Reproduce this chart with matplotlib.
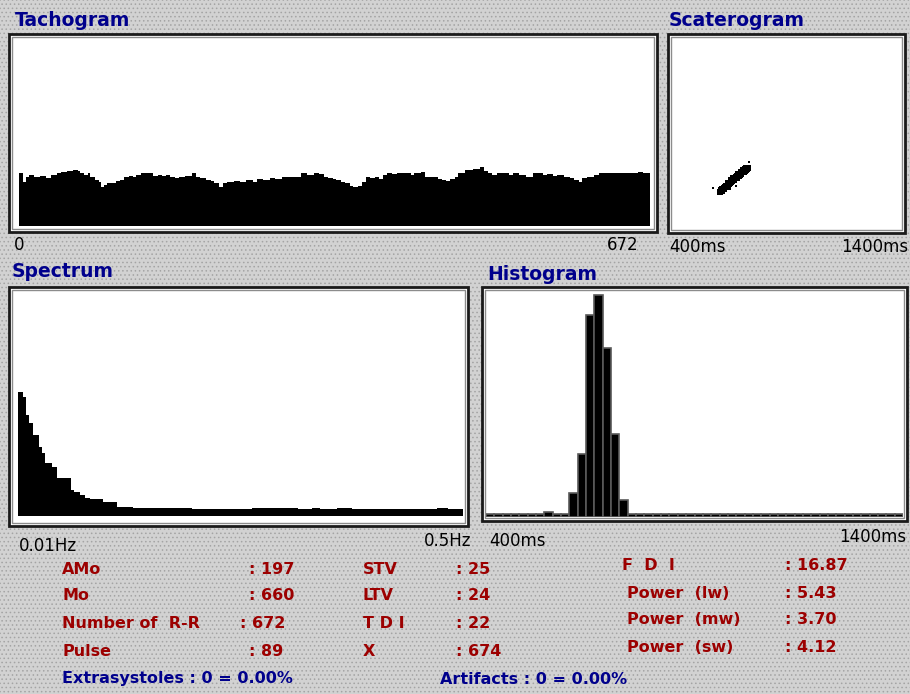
import numpy as np
import matplotlib
matplotlib.use('Agg')
import matplotlib.pyplot as plt
from matplotlib.patches import Rectangle

# Tachogram : RR (ms) par numéro de battement
tacho_beat = [0, 4, 7, 11, 16, 22, 29, 34, 40, 45, 51, 58, 63, 65, 69, 74, 76, 81, 85, 87,
              90, 94, 99, 103, 108, 112, 117, 121, 125, 130, 134, 139, 143, 148, 152, 157,
              161, 166, 170, 177, 184, 188, 193, 199, 204, 208, 213, 217, 222, 229, 235,
              242, 249, 253, 260, 267, 273, 280, 287, 293, 300, 307, 314, 320, 325, 329,
              334, 338, 343, 347, 352, 356, 361, 365, 370, 374, 379, 383, 388, 392, 397,
              403, 410, 417, 421, 428, 432, 437, 441, 446, 450, 455, 459, 464, 468, 475,
              479, 484, 491, 495, 500, 504, 509, 515, 522, 526, 533, 540, 547, 553, 558,
              562, 569, 573, 580, 587, 591, 596, 600, 605, 612, 618, 625, 634, 643, 652,
              659, 665]
tacho_rr = [680, 636, 662, 671, 662, 666, 654, 671, 680, 689, 694, 698, 694, 680, 671, 680,
            662, 645, 636, 609, 618, 627, 630, 641, 645, 659, 666, 662, 671, 680, 680, 680,
            666, 671, 666, 671, 659, 654, 662, 666, 680, 662, 654, 645, 641, 630, 609, 627,
            636, 641, 636, 645, 636, 648, 645, 654, 648, 662, 659, 662, 680, 671, 680, 677,
            662, 654, 648, 645, 636, 627, 613, 609, 613, 636, 659, 654, 662, 648, 671, 680,
            677, 680, 680, 671, 680, 689, 662, 659, 662, 648, 645, 641, 648, 662, 680, 698,
            698, 701, 712, 694, 680, 671, 680, 680, 671, 680, 671, 659, 680, 680, 671, 677,
            666, 671, 662, 654, 645, 636, 654, 662, 671, 680, 680, 680, 680, 680, 689, 680]
n_rr = 672

# Scatterogram : RR(n) / RR(n+1) en ms
scat_x = [611, 618, 622, 625, 630, 628, 635, 640, 638, 645, 650, 648, 655, 660, 658, 665,
          670, 668, 675, 680, 685, 690, 695, 700, 705, 710, 715, 720, 725, 730, 736, 700,
          690, 712, 722, 728, 675, 660, 645, 620, 686, 706, 716, 696]
scat_y = [598, 605, 603, 612, 615, 620, 622, 625, 630, 632, 638, 642, 645, 650, 655, 655,
          662, 668, 668, 675, 680, 684, 690, 692, 698, 700, 705, 708, 712, 716, 720, 685,
          690, 710, 714, 720, 660, 660, 625, 610, 672, 690, 700, 678]
outlier_x = [740, 579, 681]
outlier_y = [751, 616, 630]

# Spectre : bornes de fréquence (Hz) et puissance (unités relatives)
spec_edges = [0.0100, 0.0155, 0.0185, 0.0221, 0.0259, 0.0332, 0.0358, 0.0394, 0.0468,
              0.0523, 0.0678, 0.0714, 0.0780, 0.0835, 0.0891, 0.1037, 0.1184, 0.1368,
              0.2012, 0.2673, 0.3187, 0.3335, 0.3426, 0.3610, 0.3776, 0.4713, 0.4841, 0.5000]
spec_power = [124, 119, 101, 93, 81, 69, 63, 53, 49, 38, 26, 24, 21, 18, 17, 14, 9, 8,
              7, 8, 7, 8, 7, 8, 7, 8, 7]

# Histogramme : classes de 20 ms
hist_bins = [540, 600, 620, 640, 660, 680, 700, 720]
hist_counts = [2, 19, 53, 176, 194, 147, 71, 12]

# Indices
left_labels = ['AMo', 'Mo', 'Number of  R-R', 'Pulse']
left_values = ['197', '660', '672', '89']
mid_labels = ['STV', 'LTV', 'T D I', 'X']
mid_values = ['25', '24', '22', '674']
right_labels = ['F  D  I', 'Power  (lw)', 'Power  (mw)', 'Power  (sw)']
right_values = ['16.87', '5.43', '3.70', '4.12']

W, H = 910, 694
RED = '#9c0000'
BLUE = '#00008c'
plt.rcParams['hatch.linewidth'] = 0.6
plt.rcParams['hatch.color'] = '#a4a4a4'

fig = plt.figure(figsize=(W / 100, H / 100), dpi=100)
fig.patch.set_facecolor('#cdcdcd')

bg = fig.add_axes([0, 0, 1, 1])
bg.set_xlim(0, W)
bg.set_ylim(H, 0)
bg.axis('off')
# fond pointillé façon Windows 3.x
bg.add_patch(Rectangle((0, 0), W, H, facecolor='#d2d2d2', edgecolor='#a4a4a4',
                       hatch='....', lw=0))


def frame(x0, y0, x1, y1):
    bg.add_patch(Rectangle((x0, y0), x1 - x0, y1 - y0, facecolor='white',
                           edgecolor='#1a1a1a', lw=2))
    bg.add_patch(Rectangle((x0 + 3, y0 + 3), x1 - x0 - 6, y1 - y0 - 6, fill=False,
                           edgecolor='#8c8c8c', lw=1))


def px_axes(x0, y0, x1, y1):
    ax = fig.add_axes([x0 / W, 1 - y1 / H, (x1 - x0) / W, (y1 - y0) / H])
    ax.axis('off')
    return ax


def title(x, y, s):
    bg.text(x, y, s, color=BLUE, fontsize=13.5, fontweight='bold', va='center', ha='left')


def tick(x, y, s, ha='left'):
    bg.text(x, y, s, color='black', fontsize=12, va='center', ha=ha)


def stat(x, y, s, color=RED):
    bg.text(x, y, s, color=color, fontsize=11.5, fontweight='bold', va='center')


# cadres
frame(9, 34, 657, 232)
frame(668, 34, 905, 233)
frame(9, 287, 468, 526)
frame(482, 287, 907, 521)

# Tachogram
ax = px_axes(19, 38, 650, 226)
ax.fill_between(tacho_beat + [n_rr], tacho_rr + [tacho_rr[-1]], 400, step='post',
                color='black', lw=0)
ax.set_xlim(0, n_rr)
ax.set_ylim(400, 1400)

# Scaterogram
ax = px_axes(672, 37, 899, 230)
ax.scatter(scat_x, scat_y, s=16, marker='s', c='black', linewidths=0)
ax.scatter(outlier_x, outlier_y, s=3, marker='s', c='black', linewidths=0)
ax.set_xlim(400, 1400)
ax.set_ylim(400, 1400)

# Spectrum
ax = px_axes(18.3, 291, 462.7, 516)
ax.stairs(spec_power, spec_edges, fill=True, color='black', baseline=0)
ax.set_xlim(0.01, 0.5)
ax.set_ylim(0, 225)

# Histogram
edges = np.arange(400, 1400, 20)
counts = np.zeros(len(edges))
for b, c in zip(hist_bins, hist_counts):
    counts[(b - 400) // 20] = c
ax = px_axes(486, 291, 903, 516.7)
ax.bar(edges, counts + 2.4, bottom=-2.4, width=20, align='edge', color='black',
       edgecolor='#5a5a5a', lw=1.2)
ax.set_xlim(400, 1400)
ax.set_ylim(-2.4, 197.5)

# titres et graduations
title(15, 20, 'Tachogram')
title(669, 20, 'Scaterogram')
title(12, 271, 'Spectrum')
title(487, 274, 'Histogram')

tick(14, 245, '0')
tick(638, 245, str(n_rr), ha='right')
tick(669, 247, '400ms')
tick(908, 247, '1400ms', ha='right')
tick(19, 546, '0.01Hz')
tick(471, 541, '0.5Hz', ha='right')
tick(489, 541, '400ms')
tick(906, 537, '1400ms', ha='right')

# bloc des indices
left_y = [570, 596, 624, 651]
for y, lab, val in zip(left_y, left_labels, left_values):
    stat(62, y, lab)
    stat(240 if lab.startswith('Number') else 249, y, ': ' + val)
for y, lab, val in zip(left_y, mid_labels, mid_values):
    stat(363, y, lab)
    stat(456, y, ': ' + val)
right_y = [566, 593, 620, 647]
right_x = [622, 627, 627, 627]
for y, x, lab, val in zip(right_y, right_x, right_labels, right_values):
    stat(x, y, lab)
    stat(785, y, ': ' + val)

stat(62, 679, 'Extrasystoles : 0 = 0.00%', BLUE)
stat(440, 679, 'Artifacts : 0 = 0.00%', BLUE)

fig.savefig('out.png', dpi=100, facecolor=fig.get_facecolor())
